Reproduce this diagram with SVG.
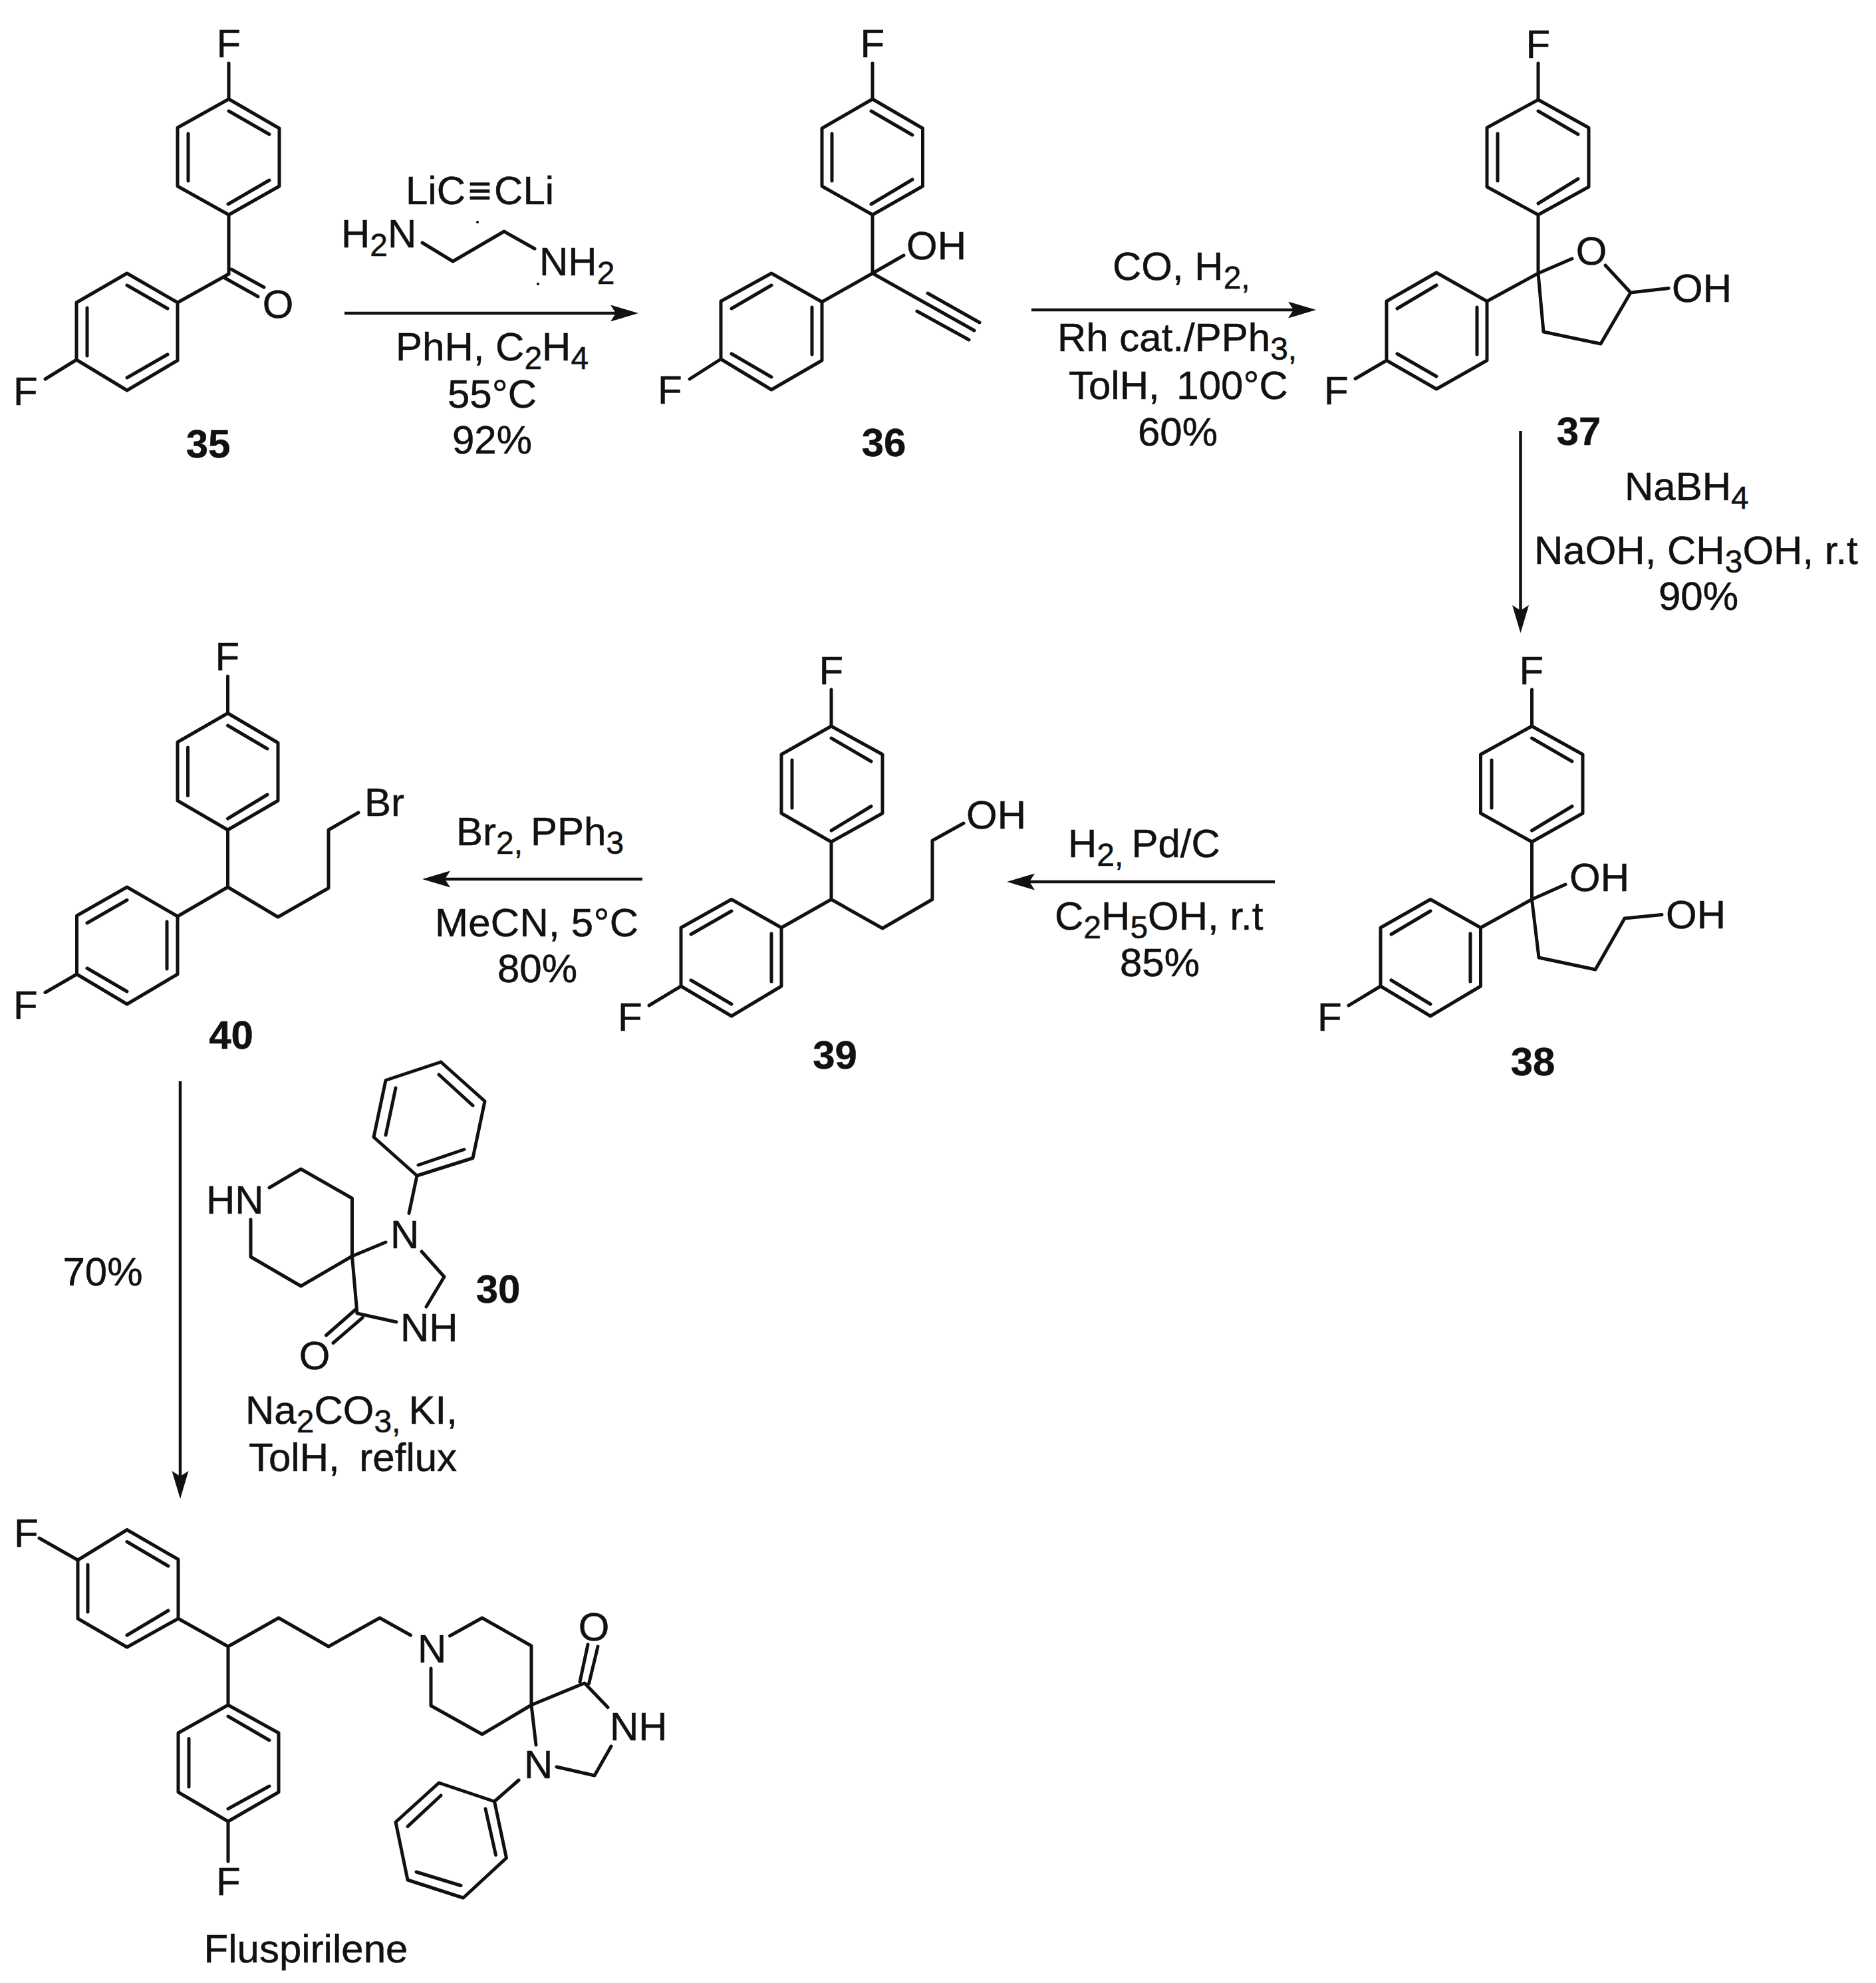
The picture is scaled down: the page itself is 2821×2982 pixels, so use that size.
<svg xmlns="http://www.w3.org/2000/svg" width="2821" height="2982" viewBox="0 0 2821 2982">
<style>
text{font-family:"Liberation Sans",Arial,sans-serif;font-size:60px;fill:#111;stroke:#111;stroke-width:.5}
.b{font-weight:bold}
.m{text-anchor:middle}
.s{font-size:48px}
path.bond{fill:none;stroke:#111;stroke-width:5;stroke-linecap:round;stroke-linejoin:round}
line.arrow{stroke:#111;stroke-width:4.5;marker-end:url(#head)}
</style>
<defs>
<marker id="head" markerUnits="userSpaceOnUse" markerWidth="44" markerHeight="26" refX="8" refY="12.5" orient="auto">
<path d="M0 0L42 12.5L0 25L8 12.5Z" fill="#111"/>
</marker>
</defs>
<rect width="2821" height="2982" fill="#fff"/>
<g id="connectors">
<line class="arrow" x1="518" y1="471" x2="926" y2="471"/>
<line class="arrow" x1="1551" y1="466" x2="1945" y2="466"/>
<line class="arrow" x1="2286.5" y1="648" x2="2286.5" y2="918"/>
<line class="arrow" x1="1917" y1="1326" x2="1548" y2="1326"/>
<line class="arrow" x1="966" y1="1322" x2="669" y2="1322"/>
<line class="arrow" x1="271" y1="1626" x2="271" y2="2220"/>
</g>
<g id="node-35">
<path class="bond" d="M344 95L344 149L420 193L420 280L344 323L267 280L267 192L344 149M344 167L405 202M405 271L343 307M283 201L283 272M344 323L344 412M267 455L191 411L115 455L115 541L191 587L267 542L267 455L344 412M191 429L252 464M252 533L191 568M131 463L131 535M115 541L68 570M348 405L397 432M338 418L388 446"/>
<text x="325.5" y="86">F</text>
<text x="20" y="609">F</text>
<text class="m" x="418" y="478">O</text>
<text class="b m" x="313" y="688">35</text>
</g>
<g id="node-36">
<path class="bond" d="M1312 95L1312 149L1387.5 193L1387.5 280L1312 323L1236 280L1236 193L1312 149M1310 167L1372 203M1372 270L1310 307M1251 201L1251 272M1312 323L1312 411M1236 454L1160 411L1084 453L1084 540L1160 586L1236 542L1236 454L1312 411M1160 429L1100 464M1221 462L1221 533M1100 532L1160 567M1084 540L1037 570M1312 411L1359 384M1312 411L1465 497M1395 441L1473 485M1379 468L1457 511"/>
<text x="1293.5" y="86">F</text>
<text x="989" y="607">F</text>
<text x="1363" y="390">OH</text>
<text class="b m" x="1329" y="686">36</text>
</g>
<g id="node-37">
<path class="bond" d="M2313 95L2313 150L2389 192L2389 281L2313 323L2236 281L2236 192L2313 150M2313 167L2373 202M2373 269L2313 306M2252 201L2252 272M2313 323L2313 411L2321 499L2407 517L2452 440L2414 399M2313 411L2364 389M2452 440L2509 433.5M2313 411L2236 453L2160 410L2085 453L2085 542L2160 585L2236 542L2236 453M2160 429L2101 464M2221 462L2221 533M2101 532L2160 566M2085 542L2038 569.5"/>
<text x="2294.5" y="87">F</text>
<text x="1991" y="608">F</text>
<text class="m" x="2393" y="398">O</text>
<text x="2514" y="454">OH</text>
<text class="b m" x="2374" y="669">37</text>
</g>
<g id="node-38">
<path class="bond" d="M2303.5 1037L2303.5 1092L2380 1134.5L2380 1223L2303.5 1266L2226.5 1223L2226.5 1134.5L2303.5 1092M2303.5 1110L2364 1145M2364 1212.5L2303.5 1249M2243 1143L2243 1215M2303.5 1266L2303.5 1352.5L2226.5 1395L2151 1352.5L2076 1395L2076 1483L2151 1528L2226.5 1483L2226.5 1395M2151 1370L2092 1405M2211 1404L2211 1476M2092 1474L2151 1510M2076 1483L2028 1512M2303.5 1352.5L2354 1330M2303.5 1352.5L2314 1440L2399 1458L2443 1381L2499 1375.5"/>
<text x="2284.5" y="1029">F</text>
<text x="1981" y="1550">F</text>
<text x="2360" y="1340">OH</text>
<text x="2505" y="1396">OH</text>
<text class="b m" x="2305" y="1617">38</text>
</g>
<g id="node-39">
<path class="bond" d="M1250 1037L1250 1092L1327 1134.5L1327 1223L1250 1266L1175 1223L1175 1134.5L1250 1092M1250 1110L1310 1145M1310 1212.5L1250 1249M1191 1143L1191 1215M1250 1266L1250 1352.5L1175 1395L1100 1352.5L1024 1395L1024 1483L1100 1528L1175 1483L1175 1395M1100 1370L1039 1405M1160 1404L1160 1476M1039 1474L1100 1510M1024 1483L976 1512M1250 1352.5L1327 1396L1402 1352.5L1402 1264L1449 1238"/>
<text x="1231.5" y="1029">F</text>
<text x="929" y="1550">F</text>
<text x="1453" y="1246">OH</text>
<text class="b m" x="1255.5" y="1607">39</text>
</g>
<g id="node-40">
<path class="bond" d="M342.5 1017L342.5 1072.5L418 1117L418 1204L342.5 1248L267 1204L267 1116L342.5 1072.5M342.5 1091L402 1126M402 1195L342.5 1231M282.5 1124L282.5 1196.5M342.5 1248L342.5 1334L267 1378L191 1334L115.5 1377L115.5 1465L191 1510L267 1465L267 1378M191 1353.5L131 1388M251 1386L251 1457M131 1456L191 1491M115.5 1465L68 1492.5M342.5 1334L418 1379L494 1335.5L494 1248L539 1222"/>
<text x="323.5" y="1008">F</text>
<text x="20" y="1532">F</text>
<text x="548" y="1227">Br</text>
<text class="b m" x="347.5" y="1577">40</text>
</g>
<g id="node-30">
<path class="bond" d="M663 1597L729 1656L711 1741.5L627 1768L562 1710L580 1624.5L663 1597M660 1616L711 1662.5M595 1636L580 1707M629 1752L698 1728.5M627 1768L615 1824.5M405 1786L452.5 1758L529.5 1802L529.5 1889L452.5 1934L377 1890L377 1834M529.5 1889L580 1868M529.5 1889L537 1975L596 1988M634 1882L668 1920L641 1965M535 1969L490.5 2008M545 1981.6L501 2019.5"/>
<text x="310" y="1825">HN</text>
<text x="587" y="1877">N</text>
<text x="602" y="2017">NH</text>
<text class="m" x="473" y="2059">O</text>
<text class="b m" x="749" y="1959">30</text>
</g>
<g id="node-fluspirilene">
<path class="bond" d="M59 2313L117 2346L191 2300.5L268 2345L268 2434L191 2477L117 2434L117 2346M191 2318.5L253 2355M253 2422L191 2459M132 2353L132 2424M268 2434L343 2476L419 2433L494 2476L571 2433L617.5 2459M343 2476L343 2564L419 2606L419 2695L343 2739L268 2695L268 2606L343 2564M343 2581L405 2617M405 2686L343 2720M284 2614.5L284 2687M343 2739L343 2799M676.5 2460L725 2433L799 2475L799 2564L725 2608L648 2565L648 2509M799 2564L879 2531L914 2567.5M799 2564L806 2624M872 2529L884 2473M885.5 2532L899 2476M919 2626L894 2670L837 2657M780 2677L743.5 2709L761.5 2794L696.6 2854L613 2827L595 2740L660 2681L743.5 2709M730 2720L745.5 2789.5M693 2835.5L626 2815M613 2746.6L663 2700"/>
<text x="21" y="2326">F</text>
<text x="325" y="2850">F</text>
<text x="628" y="2500">N</text>
<text x="788" y="2674">N</text>
<text x="917" y="2617">NH</text>
<text class="m" x="893" y="2467">O</text>
<text class="m" x="460" y="2951">Fluspirilene</text>
</g>
<g id="reagents-35-36">
<text x="610" y="307">LiC<tspan dx="4">≡</tspan><tspan dx="4">CLi</tspan></text>
<text x="513" y="372">H<tspan class="s" dy="13">2</tspan><tspan dy="-13">N</tspan></text>
<path class="bond" d="M635 365L681 393L758 348L804 374"/>
<circle cx="718" cy="334" r="2"/>
<circle cx="809" cy="427" r="2"/>
<text x="811" y="414">NH<tspan class="s" dy="13">2</tspan></text>
<text x="595" y="542">PhH, C<tspan class="s" dy="13">2</tspan><tspan dy="-13">H</tspan><tspan class="s" dy="13">4</tspan></text>
<text class="m" x="740" y="613">55°C</text>
<text class="m" x="740" y="682">92%</text>
</g>
<g id="reagents-36-37">
<text x="1673" y="421">CO, H<tspan class="s" dy="13">2,</tspan></text>
<text x="1590" y="528">Rh cat./PPh<tspan class="s" dy="13">3,</tspan></text>
<text x="1607" y="600">TolH,<tspan dx="9"> 100°C</tspan></text>
<text class="m" x="1771" y="670">60%</text>
</g>
<g id="reagents-37-38">
<text x="2443" y="752">NaBH<tspan class="s" dy="13">4</tspan></text>
<text x="2307" y="848">NaOH, CH<tspan class="s" dy="13">3</tspan><tspan dy="-13">OH, r.t</tspan></text>
<text class="m" x="2554" y="917">90%</text>
</g>
<g id="reagents-38-39">
<text x="1606" y="1289">H<tspan class="s" dy="13">2,</tspan><tspan dy="-13" dx="12">Pd/C</tspan></text>
<text x="1586" y="1398">C<tspan class="s" dy="13">2</tspan><tspan dy="-13">H</tspan><tspan class="s" dy="13">5</tspan><tspan dy="-13">OH, r.t</tspan></text>
<text class="m" x="1744" y="1468">85%</text>
</g>
<g id="reagents-39-40">
<text x="686" y="1271">Br<tspan class="s" dy="13">2,</tspan><tspan dy="-13" dx="12">PPh</tspan><tspan class="s" dy="13">3</tspan></text>
<text x="654" y="1408" textLength="306">MeCN, 5°C</text>
<text class="m" x="808" y="1477">80%</text>
</g>
<g id="reagents-40-fluspirilene">
<text class="m" x="154.5" y="1932.5">70%</text>
<text x="369" y="2141">Na<tspan class="s" dy="13">2</tspan><tspan dy="-13">CO</tspan><tspan class="s" dy="13">3,</tspan><tspan dy="-13" dx="12">KI,</tspan></text>
<text x="374" y="2212">TolH,<tspan dx="13"> reflux</tspan></text>
</g>
</svg>
